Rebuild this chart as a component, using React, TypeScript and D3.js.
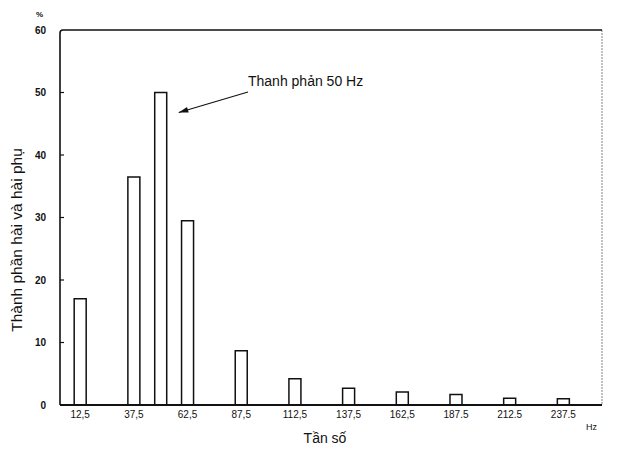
import React from "react";
import * as d3 from "d3";

const frequencies = [12.5, 37.5, 50, 62.5, 87.5, 112.5, 137.5, 162.5, 187.5, 212.5, 237.5];
const amplitudes = [17, 36.5, 50, 29.5, 8.7, 4.2, 2.7, 2.1, 1.7, 1.1, 1.0];
const xTickValues = [12.5, 37.5, 62.5, 87.5, 112.5, 137.5, 162.5, 187.5, 212.5, 237.5];
const xTickLabels = ["12,5", "37,5", "62,5", "87,5", "112,5", "137,5", "162,5", "187.5", "212.5", "237.5"];
const yTickValues = [0, 10, 20, 30, 40, 50, 60];

const W = 623;
const H = 453;
const left = 60;
const right = 602;
const top = 30;
const bottom = 405;

export default function App() {
  const x = d3.scaleLinear().domain([3.1, 255.5]).range([left, right]);
  const y = d3.scaleLinear().domain([0, 60]).range([bottom, top]);
  const barW = 12;
  const font = "'Liberation Sans', Arial, sans-serif";

  const annX1 = 248, annY1 = 92;
  const annX2 = x(50) + 18, annY2 = y(46.8);
  const ang = Math.atan2(annY2 - annY1, annX2 - annX1);
  const ah = 10, aw = 0.3;
  const p1 = [annX2 - ah * Math.cos(ang - aw), annY2 - ah * Math.sin(ang - aw)];
  const p2 = [annX2 - ah * Math.cos(ang + aw), annY2 - ah * Math.sin(ang + aw)];

  return (
    <svg width={W} height={H} style={{ position: "absolute", left: 0, top: 0, background: "#fff" }} fontFamily={font}>
      <rect x={0} y={0} width={W} height={H} fill="#fff" />
      {/* frame */}
      <line x1={right} y1={top} x2={right} y2={bottom} stroke="#999" strokeWidth={1.2} strokeDasharray="2,1" />
      <path d={`M${left},${bottom} L${left},${top + 3} Q${left},${top} ${left + 3},${top} L${right},${top}`} fill="none" stroke="#111" strokeWidth={1.6} />
      {/* bars */}
      {frequencies.map((f, i) => (
        <path
          key={f}
          d={`M${x(f) - barW / 2},${y(0)} L${x(f) - barW / 2},${y(amplitudes[i])} L${x(f) + barW / 2},${y(amplitudes[i])} L${x(f) + barW / 2},${y(0)}`}
          fill="#fff"
          stroke="#111"
          strokeWidth={1.5}
        />
      ))}
      <line x1={left} y1={bottom} x2={right} y2={bottom} stroke="#111" strokeWidth={1.8} />
      {/* y ticks */}
      {yTickValues.map((v) => (
        <g key={v}>
          {v > 0 && v < 60 && <line x1={left} x2={left + 4} y1={y(v)} y2={y(v)} stroke="#111" strokeWidth={1.2} />}
          <text x={46} y={y(v) + 3.5} textAnchor="end" fontSize={10} fontWeight="bold" fill="#111">{v}</text>
        </g>
      ))}
      <text x={36} y={17} fontSize={8} fontWeight="bold" fill="#111">%</text>
      {/* x tick labels */}
      {xTickValues.map((v, i) => (
        <text key={v} x={x(v)} y={bottom + 13} textAnchor="middle" fontSize={10} fill="#111">{xTickLabels[i]}</text>
      ))}
      <text x={586} y={430} fontSize={9} fill="#111">Hz</text>
      {/* titles */}
      <text x={325} y={443} textAnchor="middle" fontSize={14} fill="#111">Tần số</text>
      <text transform={`translate(22,240) rotate(-90)`} textAnchor="middle" fontSize={15.5} fill="#111">Thành phần hài và hài phụ</text>
      {/* annotation */}
      <text x={248} y={86} fontSize={14} fill="#111">Thanh phản 50 Hz</text>
      <line x1={annX1} y1={annY1} x2={annX2} y2={annY2} stroke="#111" strokeWidth={1.2} />
      <polygon points={`${annX2},${annY2} ${p1[0]},${p1[1]} ${p2[0]},${p2[1]}`} fill="#111" />
    </svg>
  );
}
